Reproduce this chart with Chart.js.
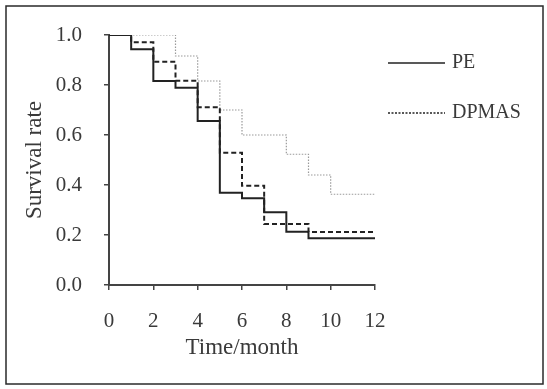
<!DOCTYPE html>
<html>
<head>
<meta charset="utf-8">
<script src="https://cdn.jsdelivr.net/npm/chart.js@4"></script>
<style>
  html, body { margin: 0; padding: 0; background: #fff; }
  #wrap { width: 547px; height: 389px; }
</style>
</head>
<body>
<div id="wrap"><canvas id="survChart" width="547" height="389"></canvas></div>
<script>
// Survival curves (value holds from month[i] to month[i+1])
const months = [0, 1, 2, 3, 4, 5, 6, 7, 8, 9, 10, 11, 12];
const pe     = [1.0, 0.943, 0.816, 0.789, 0.656, 0.369, 0.347, 0.291, 0.213, 0.187, 0.187, 0.187, 0.187];
const dpmas  = [1.0, 0.971, 0.893, 0.817, 0.711, 0.529, 0.397, 0.244, 0.244, 0.212, 0.212, 0.212, 0.212];
const other  = [1.0, 1.0, 1.0, 0.916, 0.816, 0.70, 0.60, 0.60, 0.523, 0.44, 0.363, 0.363, 0.363];

const xTicks = [0, 2, 4, 6, 8, 10, 12];
const yTicks = ['0.0', '0.2', '0.4', '0.6', '0.8', '1.0'];

const serif = 'Liberation Serif';
const ink = '#3a3a3a';

function toPoints(vals) {
    return months.map((m, i) => ({ x: m, y: vals[i] }));
}

// frame round the whole picture
const framePlugin = {
    id: 'frame',
    beforeDraw(chart) {
        const ctx = chart.ctx;
        ctx.save();
        ctx.fillStyle = '#fff';
        ctx.fillRect(0, 0, chart.width, chart.height);
        ctx.strokeStyle = '#2a2a2a';
        ctx.lineWidth = 1.5;
        ctx.strokeRect(6, 6, 537, 378);
        ctx.restore();
    }
};

// legend on the right, only the labelled series
const sideLegend = {
    id: 'sideLegend',
    afterDraw(chart) {
        const ctx = chart.ctx;
        const rows = [63, 113];
        let r = 0;
        chart.data.datasets.forEach(ds => {
            if (!ds.label) return;
            const y = rows[r++];
            ctx.save();
            ctx.strokeStyle = ds.borderColor;
            ctx.lineWidth = 1.3;
            ctx.setLineDash(ds.label === 'DPMAS' ? [2, 1.5] : []);
            ctx.beginPath();
            ctx.moveTo(388, y);
            ctx.lineTo(445, y);
            ctx.stroke();
            ctx.setLineDash([]);
            ctx.fillStyle = ink;
            ctx.font = '20px "' + serif + '"';
            ctx.textBaseline = 'middle';
            ctx.fillText(ds.label, 452, y);
            ctx.restore();
        });
    }
};

new Chart(document.getElementById('survChart'), {
    type: 'line',
    data: {
        datasets: [
            {
                label: 'PE',
                data: toPoints(pe),
                borderColor: '#222',
                borderWidth: 2,
                stepped: 'before', // horizontal first, drop at the month
                pointRadius: 0
            },
            {
                label: 'DPMAS',
                data: toPoints(dpmas),
                borderColor: '#222',
                borderWidth: 2,
                borderDash: [5, 3],
                stepped: 'before',
                pointRadius: 0
            },
            {
                label: '',
                data: toPoints(other),
                borderColor: '#9a9a9a',
                borderWidth: 1.2,
                borderDash: [1.5, 1.5],
                stepped: 'before',
                pointRadius: 0
            }
        ]
    },
    options: {
        responsive: false,
        animation: false,
        layout: { padding: { left: 0, top: 35, right: 172, bottom: 0 } },
        plugins: {
            legend: { display: false },
            tooltip: { enabled: false }
        },
        scales: {
            x: {
                type: 'linear',
                min: 0,
                max: 12,
                afterFit: s => { s.height = 104; },
                afterBuildTicks: s => { s.ticks = xTicks.map(v => ({ value: v })); },
                grid: { drawOnChartArea: false, color: '#444', lineWidth: 1.5, tickLength: 5 },
                border: { color: '#444', width: 2 },
                ticks: {
                    color: ink,
                    padding: 19,
                    maxRotation: 0,
                    font: { family: serif, size: 21 }
                },
                title: {
                    display: true,
                    text: 'Time/month',
                    color: ink,
                    font: { family: serif, size: 23 },
                    padding: { top: 0, bottom: 27 }
                }
            },
            y: {
                min: 0,
                max: 1,
                afterFit: s => { s.width = 109; },
                afterBuildTicks: s => { s.ticks = yTicks.map(v => ({ value: parseFloat(v) })); },
                grid: { drawOnChartArea: false, color: '#444', lineWidth: 1.5, tickLength: 5 },
                border: { color: '#444', width: 2 },
                ticks: {
                    color: ink,
                    padding: 22,
                    font: { family: serif, size: 21 },
                    callback: (v, i) => yTicks[i]
                },
                title: {
                    display: true,
                    text: 'Survival rate',
                    color: ink,
                    font: { family: serif, size: 23 },
                    padding: { top: 21, bottom: 0 }
                }
            }
        }
    },
    plugins: [framePlugin, sideLegend]
});
</script>
</body>
</html>
